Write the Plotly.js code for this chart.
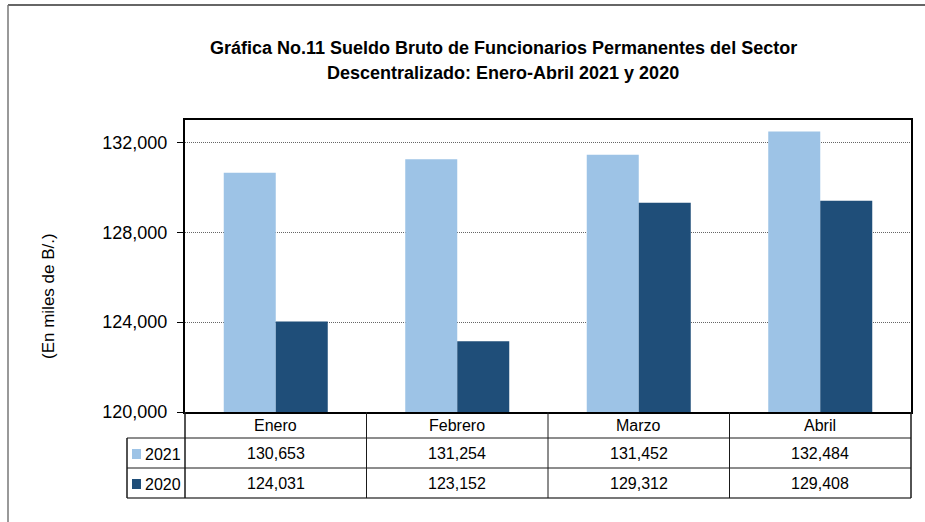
<!DOCTYPE html>
<html>
<head>
<meta charset="utf-8">
<script src="https://cdn.plot.ly/plotly-3.0.1.min.js"></script>
<style>html,body{margin:0;padding:0;background:#fff;}#chart{width:925px;height:522px;}</style>
</head>
<body>
<div id="chart"></div>
<script>
const categories = ["Enero", "Febrero", "Marzo", "Abril"];
const seriesNames = ["2021", "2020"];
const values2021 = [130653, 131254, 131452, 132484];
const values2020 = [124031, 123152, 129312, 129408];
const yTicks = [120000, 124000, 128000, 132000];
const yTickLabels = ["120,000", "124,000", "128,000", "132,000"];
const titleLines = ["Gráfica No.11 Sueldo Bruto de Funcionarios Permanentes del Sector", "Descentralizado: Enero-Abril 2021 y 2020"];
const yTitle = "(En miles de B/.)";

const colors = ["#9DC3E6", "#1F4E79"];
const FONT = "Liberation Sans, Arial, sans-serif";

// pixel helpers (plot area: x 185..911, y 120..412)
const L = 185, R = 14, T = 120, B = 110, W = 925, H = 522;
const PW = W - L - R, PH = H - T - B;
const px = x => (x - L) / PW;
const py = y => (H - B - y) / PH;

const fmt = v => v.toLocaleString("en-US");

const traces = [
  {type: "bar", name: seriesNames[0], x: categories, y: values2021, marker: {color: colors[0]}, hoverinfo: "y"},
  {type: "bar", name: seriesNames[1], x: categories, y: values2020, marker: {color: colors[1]}, hoverinfo: "y"}
];

const lineC = "#1a1a1a";
const shapes = [];
// outer chart border (top and left)
shapes.push({type: "line", xref: "paper", yref: "paper", x0: px(8), x1: px(925), y0: py(5), y1: py(5), line: {color: "#333", width: 1.5}});
shapes.push({type: "line", xref: "paper", yref: "paper", x0: px(8), x1: px(8), y0: py(5), y1: py(522), line: {color: "#777", width: 1.5}});
// table horizontal lines
[438, 468].forEach(y => shapes.push({type: "line", xref: "paper", yref: "paper", x0: px(127), x1: px(911), y0: py(y), y1: py(y), line: {color: lineC, width: 1}}));
shapes.push({type: "line", xref: "paper", yref: "paper", x0: px(127), x1: px(911), y0: py(498), y1: py(498), line: {color: "#777", width: 2}});
// table vertical lines
shapes.push({type: "line", xref: "paper", yref: "paper", x0: px(127), x1: px(127), y0: py(438), y1: py(498), line: {color: lineC, width: 1.5}});
shapes.push({type: "line", xref: "paper", yref: "paper", x0: 0, x1: 0, y0: py(412), y1: py(498), line: {color: lineC, width: 1.5}});
shapes.push({type: "line", xref: "paper", yref: "paper", x0: 1, x1: 1, y0: py(412), y1: py(498), line: {color: lineC, width: 1.5}});
for (let i = 0; i < categories.length - 1; i++) {
  shapes.push({type: "line", xref: "x", yref: "paper", x0: i + 0.5, x1: i + 0.5, y0: py(412), y1: py(498), line: {color: lineC, width: 1}});
}
// legend keys
shapes.push({type: "rect", xref: "paper", yref: "paper", x0: px(132), x1: px(141), y0: py(449), y1: py(459), fillcolor: colors[0], line: {width: 0}});
shapes.push({type: "rect", xref: "paper", yref: "paper", x0: px(132), x1: px(141), y0: py(479), y1: py(489), fillcolor: colors[1], line: {width: 0}});

const annotations = [];
const txt = (text, xref, x, y, size, extra) => Object.assign({
  text, xref, yref: "paper", x, y, showarrow: false, xanchor: "center", yanchor: "middle",
  font: {family: FONT, size, color: "#000"}
}, extra || {});

annotations.push(txt(titleLines[0], "paper", px(503), py(48), 18, {font: {family: FONT, size: 18, color: "#000", weight: "bold"}}));
annotations.push(txt(titleLines[1], "paper", px(503), py(73), 18, {font: {family: FONT, size: 18, color: "#000", weight: "bold"}}));
annotations.push(txt(yTitle, "paper", px(48), py(296), 17, {textangle: -90}));

categories.forEach((c, i) => {
  annotations.push(txt(c, "x", i, py(425), 16));
  annotations.push(txt(fmt(values2021[i]), "x", i, py(453), 16));
  annotations.push(txt(fmt(values2020[i]), "x", i, py(483), 16));
});
annotations.push(txt(seriesNames[0], "paper", px(143), py(454), 16, {xanchor: "left"}));
annotations.push(txt(seriesNames[1], "paper", px(143), py(484), 16, {xanchor: "left"}));

const layout = {
  width: W, height: H,
  margin: {l: L, r: R, t: T, b: B, pad: 0},
  paper_bgcolor: "#fff", plot_bgcolor: "#fff",
  showlegend: false,
  barmode: "group", bargap: 0.427, bargroupgap: 0,
  font: {family: FONT, color: "#000"},
  xaxis: {
    type: "category", showticklabels: false, ticks: "", showgrid: false,
    showline: true, mirror: true, linecolor: "#000", linewidth: 2, range: [-0.5, 3.5], fixedrange: true
  },
  yaxis: {
    range: [120000, 133000], tickvals: yTicks, ticktext: yTickLabels,
    tickfont: {family: FONT, size: 18, color: "#000"},
    ticks: "outside", ticklen: 6, tickcolor: "#000", tickwidth: 1, ticklabelstandoff: 6,
    showgrid: true, gridcolor: "#666", griddash: "1px,1px", gridwidth: 1,
    showline: true, mirror: true, linecolor: "#000", linewidth: 2, zeroline: false, fixedrange: true
  },
  shapes, annotations
};

Plotly.newPlot("chart", traces, layout, {displayModeBar: false, staticPlot: true});
</script>
</body>
</html>
